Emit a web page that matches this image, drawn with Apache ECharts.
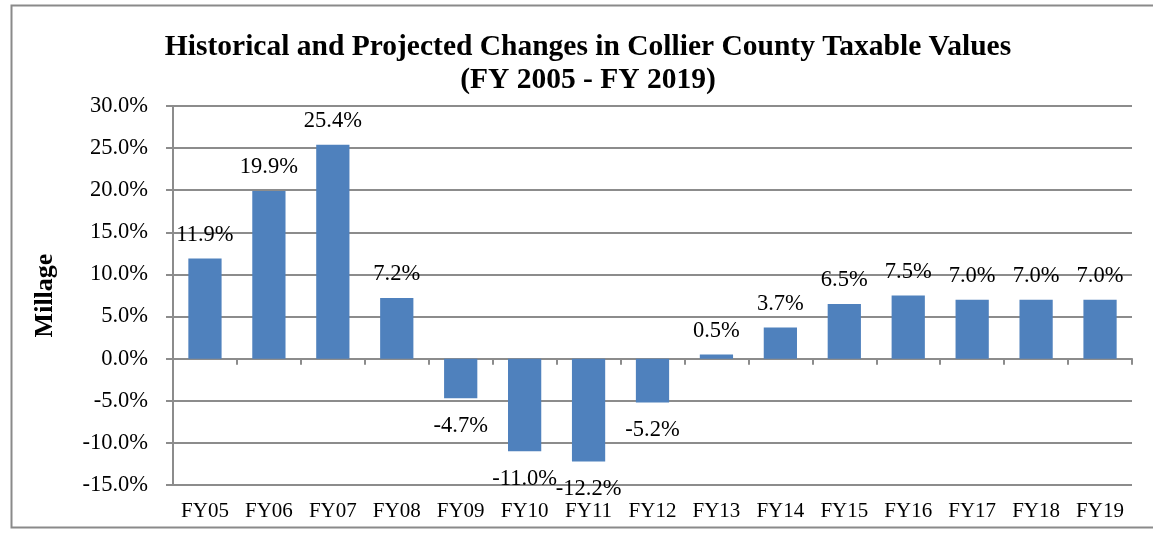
<!DOCTYPE html>
<html>
<head>
<meta charset="utf-8">
<script src="https://cdn.jsdelivr.net/npm/echarts@6/dist/echarts.min.js"></script>
<style>
  html, body { margin: 0; padding: 0; background: #fff; }
</style>
</head>
<body>
<div id="chart" style="width:1153px;height:533px;"></div>
<script>
// fiscal years and % change in taxable values
const categories = ['FY05', 'FY06', 'FY07', 'FY08', 'FY09', 'FY10', 'FY11', 'FY12', 'FY13', 'FY14', 'FY15', 'FY16', 'FY17', 'FY18', 'FY19']
const changes = [11.9, 19.9, 25.4, 7.2, -4.7, -11.0, -12.2, -5.2, 0.5, 3.7, 6.5, 7.5, 7.0, 7.0, 7.0]

const serif = '"Liberation Serif", "DejaVu Serif", serif'
const gridColor = '#8c8c8c'

const chart = echarts.init(document.getElementById('chart'))

const barData = changes.map(v => ({
  value: v,
  label: {
    position: v < 0 ? 'bottom' : 'top',
    distance: v < 0 ? 16 : 12
  }
}))

const option = {
  animation: false,
  backgroundColor: '#fff',
  title: {
    text: 'Historical and Projected Changes in Collier County Taxable Values\n(FY 2005 - FY 2019)',
    left: 583,
    textAlign: 'center',
    top: 26,
    textStyle: {
      fontFamily: serif,
      fontWeight: 'bold',
      fontSize: 29.5,
      lineHeight: 33,
      color: '#000'
    }
  },
  graphic: [
    {
      type: 'rect',
      shape: { x: 11.5, y: 5.5, width: 1160, height: 522 },
      style: { fill: 'none', stroke: '#8a8a8a', lineWidth: 2 },
      silent: true
    }
  ],
  grid: {
    left: 173,
    right: 21,
    top: 106,
    bottom: 48
  },
  xAxis: [
    {
      type: 'category',
      data: categories,
      position: 'bottom',
      axisLine: { show: false, onZero: false },
      axisTick: { show: false },
      axisLabel: {
        fontFamily: serif,
        fontSize: 21,
        color: '#000',
        margin: 16
      }
    },
    {
      type: 'category',
      data: categories,
      position: 'bottom',
      axisLine: { show: true, onZero: true, lineStyle: { color: gridColor, width: 2 } },
      axisTick: { show: true, length: 6, inside: false, lineStyle: { color: gridColor, width: 2 } },
      axisLabel: { show: false }
    }
  ],
  yAxis: {
    type: 'value',
    min: -15,
    max: 30,
    interval: 5,
    name: 'Millage',
    nameLocation: 'middle',
    nameGap: 115,
    nameTextStyle: {
      fontFamily: serif,
      fontWeight: 'bold',
      fontSize: 26,
      color: '#000'
    },
    axisLine: { show: true, lineStyle: { color: gridColor, width: 2 } },
    axisTick: { show: true, length: 7, lineStyle: { color: gridColor, width: 2 } },
    axisLabel: {
      fontFamily: serif,
      fontSize: 22.5,
      color: '#000',
      margin: 25,
      formatter: v => v.toFixed(1) + '%'
    },
    splitLine: { show: true, lineStyle: { color: gridColor, width: 2 } }
  },
  series: [
    {
      type: 'bar',
      xAxisIndex: 0,
      data: barData,
      barWidth: '52%',
      itemStyle: { color: '#4F81BD' },
      label: {
        show: true,
        fontFamily: serif,
        fontSize: 22.5,
        color: '#000',
        formatter: p => p.value.toFixed(1) + '%'
      }
    }
  ]
}

chart.setOption(option)
</script>
</body>
</html>
